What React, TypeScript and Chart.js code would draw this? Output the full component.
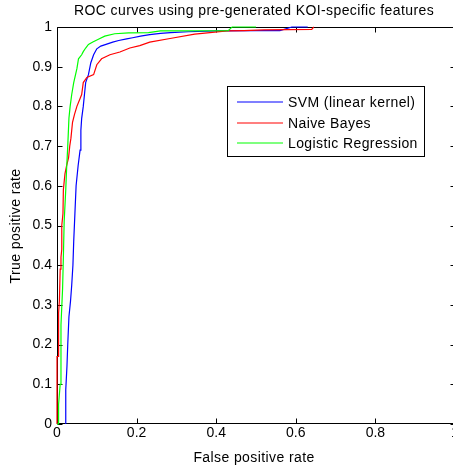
import React, { useEffect, useRef } from 'react';
import { Chart, registerables } from 'chart.js';

Chart.register(...registerables);

const TITLE = 'ROC curves using pre-generated KOI-specific features';
const X_LABEL = 'False positive rate';
const Y_LABEL = 'True positive rate';

const X_TICKS = [0, 0.2, 0.4, 0.6, 0.8, 1];
const X_TICK_LABELS = ['0', '0.2', '0.4', '0.6', '0.8', '1'];
const Y_TICKS = [0, 0.1, 0.2, 0.3, 0.4, 0.5, 0.6, 0.7, 0.8, 0.9, 1];
const Y_TICK_LABELS = ['0', '0.1', '0.2', '0.3', '0.4', '0.5', '0.6', '0.7', '0.8', '0.9', '1'];

const SERIES_NAMES = ['SVM (linear kernel)', 'Naive Bayes', 'Logistic Regression'];
const SERIES_COLORS = ['#0000ff', '#ff0000', '#00ff00'];

const SVM_FPR = [0.022, 0.022, 0.025, 0.027, 0.03, 0.034, 0.037, 0.04, 0.042, 0.045, 0.048, 0.053, 0.058, 0.06, 0.062, 0.066, 0.069, 0.072, 0.079, 0.085, 0.092, 0.1, 0.11, 0.125, 0.14, 0.155, 0.175, 0.19, 0.21, 0.233, 0.26, 0.285, 0.33, 0.4, 0.5, 0.56, 0.59, 0.63];
const SVM_TPR = [0, 0.086, 0.145, 0.2, 0.27, 0.31, 0.35, 0.4, 0.46, 0.53, 0.6, 0.65, 0.69, 0.74, 0.77, 0.8, 0.83, 0.86, 0.88, 0.91, 0.93, 0.945, 0.952, 0.957, 0.962, 0.966, 0.97, 0.973, 0.977, 0.981, 0.984, 0.986, 0.988, 0.99, 0.991, 0.991, 1, 1];

const NB_FPR = [0, 0, 0.004, 0.004, 0.006, 0.008, 0.01, 0.012, 0.012, 0.015, 0.016, 0.02, 0.024, 0.029, 0.032, 0.035, 0.039, 0.044, 0.05, 0.058, 0.062, 0.066, 0.075, 0.092, 0.1, 0.112, 0.133, 0.158, 0.183, 0.208, 0.233, 0.284, 0.346, 0.384, 0.427, 0.47, 0.52, 0.64, 0.645];
const NB_TPR = [0, 0.17, 0.17, 0.28, 0.31, 0.39, 0.42, 0.44, 0.5, 0.53, 0.59, 0.63, 0.65, 0.67, 0.7, 0.72, 0.76, 0.78, 0.8, 0.82, 0.83, 0.86, 0.873, 0.88, 0.905, 0.92, 0.93, 0.937, 0.947, 0.953, 0.962, 0.971, 0.982, 0.986, 0.99, 0.991, 0.993, 0.994, 1];

const LR_FPR = [0, 0.003, 0.003, 0.005, 0.008, 0.01, 0.014, 0.016, 0.018, 0.022, 0.024, 0.027, 0.03, 0.033, 0.037, 0.042, 0.05, 0.054, 0.062, 0.066, 0.072, 0.079, 0.09, 0.104, 0.12, 0.145, 0.18, 0.23, 0.26, 0.43, 0.44, 0.5];
const LR_TPR = [0, 0, 0.04, 0.05, 0.1, 0.25, 0.34, 0.42, 0.51, 0.59, 0.64, 0.7, 0.77, 0.8, 0.83, 0.86, 0.895, 0.92, 0.93, 0.938, 0.947, 0.956, 0.962, 0.969, 0.977, 0.983, 0.985, 0.986, 0.99, 0.991, 1, 1];

const FONT = '14px "Liberation Sans", Arial, sans-serif';

const toPoints = (xs: number[], ys: number[]) => xs.map((x, i) => ({ x, y: ys[i] }));

const matlabPlugin = {
  id: 'matlabAxes',
  beforeDatasetsDraw(chart: any) {
    const { ctx, chartArea } = chart;
    const xs = chart.scales.x;
    const ys = chart.scales.y;
    const L = chartArea.left + 0.5;
    const R = chartArea.right + 0.5;
    const T = Math.round(chartArea.top) + 0.5;
    const B = chartArea.bottom - 0.5;
    ctx.save();
    ctx.strokeStyle = '#000';
    ctx.lineWidth = 1;
    ctx.beginPath();
    ctx.moveTo(L, T); ctx.lineTo(R, T);
    ctx.moveTo(L, B); ctx.lineTo(R, B);
    ctx.moveTo(L, T); ctx.lineTo(L, B);
    ctx.moveTo(R, T); ctx.lineTo(R, B);
    const tl = 5;
    X_TICKS.forEach((v) => {
      const px = Math.round(xs.getPixelForValue(v)) + 0.5;
      ctx.moveTo(px, B); ctx.lineTo(px, B - tl);
      ctx.moveTo(px, T); ctx.lineTo(px, T + tl);
    });
    Y_TICKS.forEach((v) => {
      const py = Math.round(ys.getPixelForValue(v)) + 0.5;
      ctx.moveTo(L, py); ctx.lineTo(L + tl, py);
      ctx.moveTo(R, py); ctx.lineTo(R - tl, py);
    });
    ctx.stroke();
    ctx.restore();
  },
  afterDraw(chart: any) {
    const { ctx } = chart;
    ctx.save();
    ctx.fillStyle = '#000';
    ctx.font = FONT;
    (ctx as any).letterSpacing = '0.4px';
    ctx.textBaseline = 'alphabetic';
    ctx.textAlign = 'center';
    ctx.fillText(TITLE, 254, 15);
    ctx.fillText(X_LABEL, 254, 462);
    ctx.save();
    ctx.translate(20, 226);
    ctx.rotate(-Math.PI / 2);
    ctx.fillText(Y_LABEL, 0, 0);
    ctx.restore();
    // Legend
    const bx = 227.5, by = 86.5, bw = 197, bh = 70;
    ctx.fillStyle = '#fff';
    ctx.fillRect(bx, by, bw, bh);
    ctx.strokeStyle = '#000';
    ctx.lineWidth = 1;
    ctx.strokeRect(bx, by, bw, bh);
    const rows = [102, 122.7, 143.3];
    SERIES_NAMES.forEach((name, i) => {
      const ry = Math.round(rows[i]);
      ctx.strokeStyle = SERIES_COLORS[i];
      ctx.lineWidth = 1.2;
      ctx.beginPath();
      ctx.moveTo(237, ry);
      ctx.lineTo(283, ry);
      ctx.stroke();
      ctx.fillStyle = '#000';
      ctx.textAlign = 'left';
      ctx.fillText(name, 288, rows[i] + 5);
    });
    ctx.restore();
  },
};

export default function App() {
  const canvasRef = useRef<HTMLCanvasElement | null>(null);

  useEffect(() => {
    const canvas = canvasRef.current;
    if (!canvas) return;
    const mk = (i: number, xs: number[], ys: number[], order: number) => ({
      label: SERIES_NAMES[i],
      data: toPoints(xs, ys),
      borderColor: SERIES_COLORS[i],
      backgroundColor: SERIES_COLORS[i],
      showLine: true,
      borderWidth: 1.2,
      pointRadius: 0,
      fill: false,
      clip: 3,
      order,
    });
    const chart = new Chart(canvas, {
      type: 'scatter',
      data: {
        datasets: [
          mk(0, SVM_FPR, SVM_TPR, 2),
          mk(1, NB_FPR, NB_TPR, 1),
          mk(2, LR_FPR, LR_TPR, 0),
        ],
      },
      options: {
        responsive: false,
        animation: false,
        events: [],
        layout: { padding: { top: 27, right: 15, left: 0, bottom: 0 } },
        plugins: {
          legend: { display: false },
          title: { display: false },
          tooltip: { enabled: false },
        },
        scales: {
          x: {
            type: 'linear',
            min: 0,
            max: 1,
            grid: { display: false, drawTicks: false },
            border: { display: false },
            afterBuildTicks: (scale: any) => {
              scale.ticks = X_TICKS.map((v) => ({ value: v }));
            },
            afterFit: (scale: any) => {
              scale.height = 42;
            },
            ticks: {
              color: '#000',
              font: { family: '"Liberation Sans", Arial, sans-serif', size: 14 },
              padding: 1,
              maxRotation: 0,
              autoSkip: false,
              callback: (_v: any, i: number) => X_TICK_LABELS[i],
            },
          },
          y: {
            type: 'linear',
            min: 0,
            max: 1,
            grid: { display: false, drawTicks: false },
            border: { display: false },
            afterBuildTicks: (scale: any) => {
              scale.ticks = Y_TICKS.map((v) => ({ value: v }));
            },
            afterFit: (scale: any) => {
              scale.width = 57;
            },
            ticks: {
              color: '#000',
              font: { family: '"Liberation Sans", Arial, sans-serif', size: 14 },
              padding: 5,
              autoSkip: false,
              callback: (_v: any, i: number) => Y_TICK_LABELS[i],
            },
          },
        },
      },
      plugins: [matlabPlugin],
    } as any);
    return () => chart.destroy();
  }, []);

  return (
    <div
      style={{
        position: 'absolute',
        left: 0,
        top: 0,
        width: 453,
        height: 466,
        overflow: 'hidden',
        background: '#fff',
      }}
    >
      <canvas ref={canvasRef} width={470} height={466} style={{ display: 'block', width: 470, height: 466 }} />
    </div>
  );
}
